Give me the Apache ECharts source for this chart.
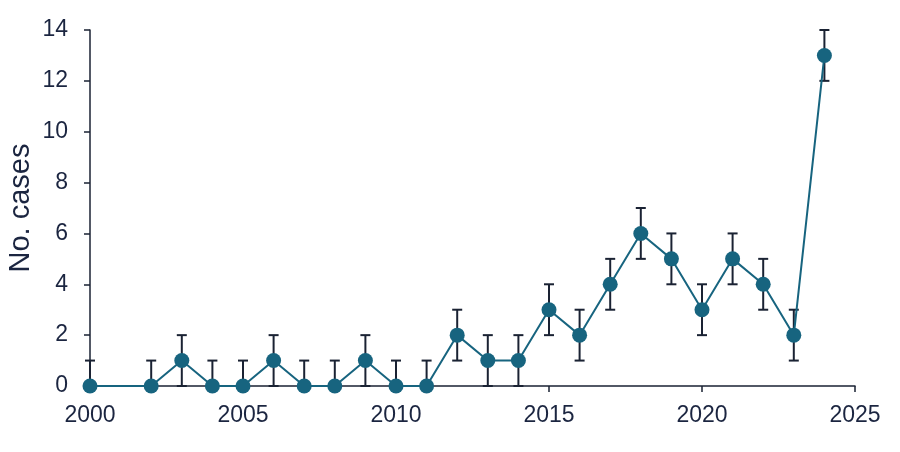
<!DOCTYPE html>
<html>
<head>
<meta charset="utf-8">
<script src="https://cdn.jsdelivr.net/npm/echarts@6/dist/echarts.min.js"></script>
<style>html,body{margin:0;padding:0;background:#fff}#c{width:900px;height:452px}</style>
</head>
<body>
<div id="c"></div>
<script>
const years = [2000,2002,2003,2004,2005,2006,2007,2008,2009,2010,2011,2012,2013,2014,2015,2016,2017,2018,2019,2020,2021,2022,2023,2024];
const cases = [0,0,1,0,0,1,0,0,1,0,0,2,1,1,3,2,4,6,5,3,5,4,2,13];
const errLow = [0,0,0,0,0,0,0,0,0,0,0,1,0,0,2,1,3,5,4,2,4,3,1,12];
const errHigh = [1,1,2,1,1,2,1,1,2,1,1,3,2,2,4,3,5,7,6,4,6,5,3,14];
const xTicks = [2000,2005,2010,2015,2020,2025];
const yTicks = [0,2,4,6,8,10,12,14];

const textColor = '#1b2540';
const axisColor = '#1a2233';
const seriesColor = '#17647f';
const font = 'Liberation Sans';

const lineData = years.map((y, i) => [y, cases[i]]);
const errData = years.map((y, i) => [y, errLow[i], errHigh[i]]);

const chart = echarts.init(document.getElementById('c'));
chart.setOption({
  animation: false,
  backgroundColor: '#fff',
  grid: { left: 90, right: 45, top: 30, bottom: 66, containLabel: false, outerBoundsMode: 'none' },
  xAxis: {
    type: 'value',
    min: xTicks[0], max: xTicks[xTicks.length - 1], interval: 5,
    splitLine: { show: false },
    axisLine: { show: true, lineStyle: { color: axisColor, width: 1.5 } },
    axisTick: { show: true, length: 6, lineStyle: { color: axisColor, width: 1.5 } },
    axisLabel: { color: textColor, fontSize: 23, fontFamily: font, margin: 18, formatter: v => String(v) }
  },
  yAxis: {
    type: 'value',
    min: yTicks[0], max: yTicks[yTicks.length - 1], interval: 2,
    name: 'No. cases',
    nameLocation: 'middle',
    nameGap: 55,
    nameRotate: 90,
    nameMoveOverlap: false,
    nameTextStyle: { color: textColor, fontSize: 29, fontFamily: font },
    splitLine: { show: false },
    axisLine: { show: true, lineStyle: { color: axisColor, width: 1.5 } },
    axisTick: { show: true, length: 6, lineStyle: { color: axisColor, width: 1.5 } },
    axisLabel: { color: textColor, fontSize: 23, fontFamily: font, margin: 22, formatter: v => String(v) }
  },
  series: [
    {
      type: 'custom',
      z: 1,
      data: errData,
      renderItem: function (params, api) {
        const x = api.value(0);
        const lo = api.coord([x, api.value(1)]);
        const hi = api.coord([x, api.value(2)]);
        const hw = 5;
        const style = { stroke: axisColor, lineWidth: 2 };
        return {
          type: 'group',
          children: [
            { type: 'line', shape: { x1: hi[0], y1: hi[1], x2: lo[0], y2: lo[1] }, style: style },
            { type: 'line', shape: { x1: hi[0] - hw, y1: hi[1], x2: hi[0] + hw, y2: hi[1] }, style: style },
            { type: 'line', shape: { x1: lo[0] - hw, y1: lo[1], x2: lo[0] + hw, y2: lo[1] }, style: style }
          ]
        };
      }
    },
    {
      type: 'line',
      z: 3,
      data: lineData,
      symbol: 'circle',
      symbolSize: 15,
      lineStyle: { color: seriesColor, width: 2 },
      itemStyle: { color: seriesColor },
      clip: false
    }
  ]
});
</script>
</body>
</html>
